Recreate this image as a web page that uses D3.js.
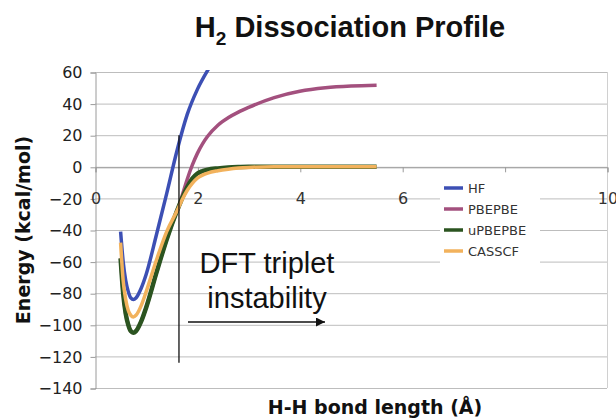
<!DOCTYPE html>
<html><head><meta charset="utf-8">
<script src="https://cdn.jsdelivr.net/npm/d3@7"></script>
<style>body{margin:0;background:#fff}svg{display:block}</style>
</head><body>
<svg id="c" width="616" height="418"></svg>
<script>
const seriesNames = ["HF", "PBEPBE", "uPBEPBE", "CASSCF"];
const seriesColors = ["#3c4fb4", "#a3507e", "#2b5420", "#f2b25c"];

const hfX = [0.5, 0.55, 0.6, 0.65, 0.7, 0.75, 0.8, 0.9, 1.0, 1.2, 1.4, 1.6, 1.8, 2.0, 2.2, 2.4];
const hfY = [-41, -60, -72, -79, -83, -84, -83, -77, -68, -43, -17, 10, 33, 49, 61, 71];

const dftX = [0.5, 0.55, 0.6, 0.65, 0.7, 0.75, 0.8, 0.9, 1.0, 1.2, 1.4, 1.6, 1.65, 1.7, 1.8, 1.9, 2.0, 2.1, 2.2, 2.4, 2.6, 2.8, 3.0, 3.5, 4.0, 4.5, 5.0, 5.5];
const pbeY = [-58, -80, -93, -100, -104, -105, -104, -98, -89, -67, -46, -28, -24, -18.5, -8, 1, 8.5, 14.5, 19.3, 26.3, 31, 34.6, 37.6, 43.8, 47.8, 50, 51.1, 51.6];
const upbeY = [-58, -80, -93, -100, -104, -105, -104, -98, -89, -67, -46, -28, -24, -20, -13, -7.5, -4.2, -2.7, -1.8, -1, -0.5, -0.2, 0, 0, 0, 0, 0, 0];
const casY = [-48, -72, -84, -91, -94, -95, -94, -88, -79, -59, -41, -28, -24.5, -21, -15, -10.5, -7.2, -5.3, -4, -2.5, -1.5, -0.8, -0.4, 0, 0, 0, 0, 0];

const yTicks = [60, 40, 20, 0, -20, -40, -60, -80, -100, -120, -140];
const xTicks = [0, 2, 4, 6, 8, 10];
const xTickLabels = ["0", "2", "4", "6", "", "10"];
const instabilityX = 1.64;

const svg = d3.select("#c");
const L = 95, R = 607, T = 72, B = 388;
const x = d3.scaleLinear().domain([0, 10]).range([L, R]);
const y = d3.scaleLinear().domain([-140, 60]).range([B, T]);

// gridlines
svg.append("g").selectAll("line").data(yTicks).join("line")
  .attr("x1", L).attr("x2", R).attr("y1", d => y(d) + 0.5).attr("y2", d => y(d) + 0.5)
  .attr("stroke", "#bdbdbd").attr("stroke-width", 1);
// right border
svg.append("line").attr("x1", R + 0.5).attr("x2", R + 0.5).attr("y1", T).attr("y2", B)
  .attr("stroke", "#d0d0d0");

// y axis
const yAxis = d3.axisLeft(y).tickValues(yTicks).tickSize(5).tickPadding(8);
const gy = svg.append("g").attr("transform", `translate(${L + 0.5},0.5)`).call(yAxis);
gy.select(".domain").attr("stroke", "#9a9a9a");
gy.selectAll(".tick line").attr("stroke", "#9a9a9a");
gy.selectAll("text").attr("font-family", "DejaVu Sans").attr("font-size", 16).attr("fill", "#222");

// x axis at y=0
const xAxis = d3.axisBottom(x).tickValues(xTicks).tickSize(5).tickPadding(20)
  .tickFormat((d, i) => xTickLabels[i]);
const gx = svg.append("g").attr("transform", `translate(0.5,${y(0) + 0.5})`).call(xAxis);
gx.select(".domain").attr("stroke", "#9a9a9a");
gx.selectAll(".tick line").attr("stroke", "#9a9a9a");
gx.selectAll("text").attr("font-family", "DejaVu Sans").attr("font-size", 16).attr("fill", "#333");

// clip
svg.append("clipPath").attr("id", "clip").append("rect")
  .attr("x", L).attr("y", T - 2).attr("width", R - L).attr("height", B - T + 2);

const line = d3.line().x(d => x(d[0])).y(d => y(d[1])).curve(d3.curveMonotoneX);
const data = [
  d3.zip(hfX, hfY),
  d3.zip(dftX, pbeY),
  d3.zip(dftX, upbeY),
  d3.zip(dftX, casY)
];
const widths = [3.5, 3.5, 4.5, 3.5];
const gl = svg.append("g").attr("clip-path", "url(#clip)");
data.forEach((d, i) => {
  gl.append("path").attr("d", line(d)).attr("fill", "none")
    .attr("stroke", seriesColors[i]).attr("stroke-width", widths[i])
    .attr("stroke-linejoin", "round").attr("stroke-linecap", "butt");
});

// vertical instability line
svg.append("line").attr("x1", x(instabilityX)).attr("x2", x(instabilityX))
  .attr("y1", y(20)).attr("y2", y(-124)).attr("stroke", "#111").attr("stroke-width", 1.3);

// annotation text
svg.append("text").attr("x", 267).attr("y", 273).attr("text-anchor", "middle")
  .attr("font-family", "Liberation Sans, Arial").attr("font-size", 29).attr("fill", "#111")
  .text("DFT triplet");
svg.append("text").attr("x", 267).attr("y", 308).attr("text-anchor", "middle")
  .attr("font-family", "Liberation Sans, Arial").attr("font-size", 29).attr("fill", "#111")
  .text("instability");
// arrow
svg.append("defs").append("marker").attr("id", "ah").attr("viewBox", "0 0 10 10")
  .attr("refX", 10).attr("refY", 5).attr("markerWidth", 13).attr("markerHeight", 9)
  .attr("markerUnits", "userSpaceOnUse").attr("orient", "auto")
  .append("path").attr("d", "M0,0L10,5L0,10z").attr("fill", "#111");
svg.append("line").attr("x1", 188).attr("x2", 325).attr("y1", 322).attr("y2", 322)
  .attr("stroke", "#111").attr("stroke-width", 1.3).attr("marker-end", "url(#ah)");

// legend
const lg = svg.append("g");
lg.append("rect").attr("x", 440).attr("y", 180).attr("width", 100).attr("height", 83).attr("fill", "#fff");
seriesNames.forEach((n, i) => {
  const yy = 188 + i * 21;
  lg.append("line").attr("x1", 444).attr("x2", 463).attr("y1", yy).attr("y2", yy)
    .attr("stroke", seriesColors[i]).attr("stroke-width", 3.5);
  lg.append("text").attr("x", 468).attr("y", yy + 5).attr("font-family", "DejaVu Sans")
    .attr("font-size", 13).attr("fill", "#333").text(n);
});

// titles
const t = svg.append("text").attr("x", 350).attr("y", 37).attr("text-anchor", "middle")
  .attr("font-family", "Liberation Sans, Arial").attr("font-weight", "bold").attr("font-size", 29).attr("fill", "#111");
t.append("tspan").text("H");
t.append("tspan").attr("font-size", 19).attr("dy", 8).text("2");
t.append("tspan").attr("dy", -8).text(" Dissociation Profile");

svg.append("text").attr("transform", "translate(30,230) rotate(-90)").attr("text-anchor", "middle")
  .attr("font-family", "DejaVu Sans").attr("font-weight", "bold").attr("font-size", 19).attr("fill", "#111")
  .text("Energy (kcal/mol)");
svg.append("text").attr("x", 375).attr("y", 414).attr("text-anchor", "middle")
  .attr("font-family", "DejaVu Sans").attr("font-weight", "bold").attr("font-size", 19).attr("fill", "#111")
  .text("H-H bond length (Å)");
</script>
</body></html>
